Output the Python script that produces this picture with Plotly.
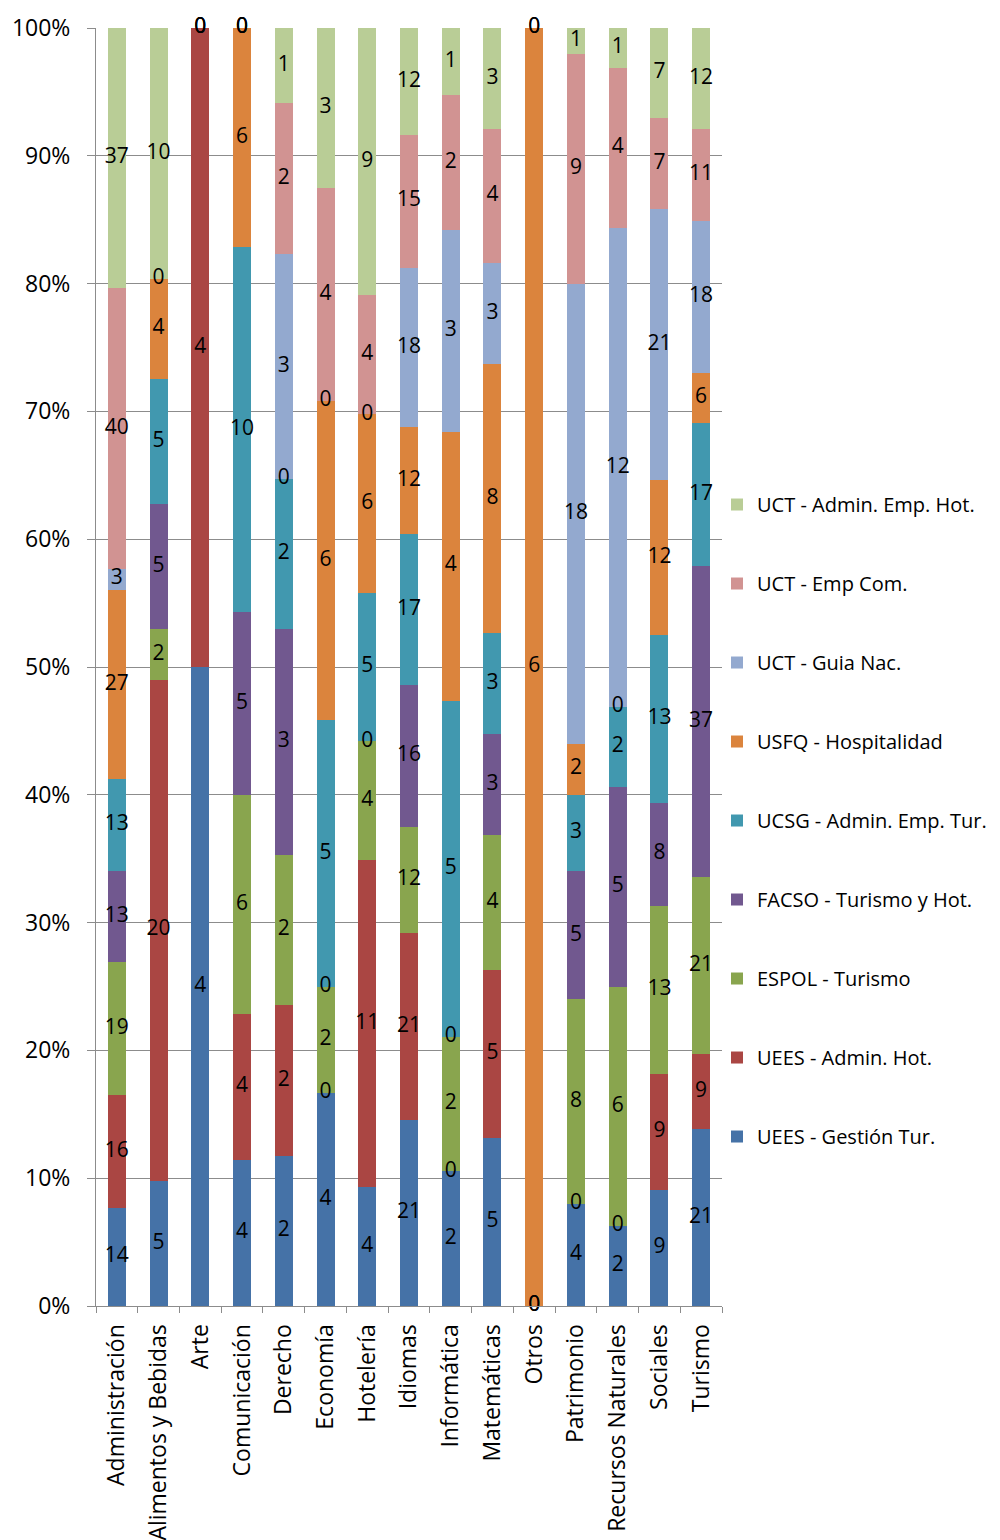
import plotly.graph_objects as go

categories = ["Administración", "Alimentos y Bebidas", "Arte", "Comunicación", "Derecho",
              "Economía", "Hotelería", "Idiomas", "Informática", "Matemáticas", "Otros",
              "Patrimonio", "Recursos Naturales", "Sociales", "Turismo"]

uees_gestion = [14, 5, 4, 4, 2, 4, 4, 21, 2, 5, 0, 4, 2, 9, 21]
uees_admin = [16, 20, 4, 4, 2, 0, 11, 21, 0, 5, 0, 0, 0, 9, 9]
espol_turismo = [19, 2, None, 6, 2, 2, 4, 12, 2, 4, None, 8, 6, 13, 21]
facso = [13, 5, None, 5, 3, 0, 0, 16, 0, 3, None, 5, 5, 8, 37]
ucsg = [13, 5, None, 10, 2, 5, 5, 17, 5, 3, None, 3, 2, 13, 17]
usfq = [27, 4, 0, 6, 0, 6, 6, 12, 4, 8, 6, 2, 0, 12, 6]
uct_guia = [3, None, None, 0, 3, 0, 0, 18, 3, 3, 0, 18, 12, 21, 18]
uct_empcom = [40, 0, 0, 0, 2, 4, 4, 15, 2, 4, None, 9, 4, 7, 11]
uct_adminhot = [37, 10, 0, 0, 1, 3, 9, 12, 1, 3, 0, 1, 1, 7, 12]

series_names = ["UEES - Gestión Tur.", "UEES - Admin. Hot.", "ESPOL - Turismo",
                "FACSO - Turismo y Hot.", "UCSG - Admin. Emp. Tur.", "USFQ - Hospitalidad",
                "UCT - Guia Nac.", "UCT - Emp Com.", "UCT - Admin. Emp. Hot."]
series_values = [uees_gestion, uees_admin, espol_turismo, facso, ucsg, usfq,
                 uct_guia, uct_empcom, uct_adminhot]
colors = ["#4572A7", "#AA4643", "#89A54E", "#71588F", "#4198AF", "#DB843D",
          "#93A9CF", "#D19392", "#B9CD96"]

FONT = "Open Sans"

fig = go.Figure()
for i, (name, vals, col) in enumerate(zip(series_names, series_values, colors)):
    fig.add_trace(go.Bar(
        x=categories, y=vals, name=name, marker_color=col,
        marker_line_width=0, legendgroup=f"g{i}", legendrank=100 - i,
    ))

# data labels at segment centers (computed from the data)
totals = [sum(v[j] for v in series_values if v[j] is not None) for j in range(len(categories))]
lx, ly, lt = [], [], []
cum = [0.0] * len(categories)
for vals in series_values:
    for j, v in enumerate(vals):
        if v is None:
            continue
        mid = (cum[j] + v / 2) / totals[j] * 100
        lx.append(categories[j])
        ly.append(mid)
        lt.append(str(v))
        cum[j] += v
fig.add_trace(go.Scatter(
    x=lx, y=ly, text=lt, mode="text", textposition="middle center",
    textfont=dict(family=FONT, size=21, color="black"),
    showlegend=False, cliponaxis=False, hoverinfo="skip",
))

fig.update_layout(
    width=992, height=1532,
    barmode="stack", barnorm="percent", bargap=0.57,
    paper_bgcolor="white", plot_bgcolor="white",
    margin=dict(l=88, r=278, t=20, b=234, autoexpand=False),
    font=dict(family=FONT, size=20, color="black"),
    legend=dict(
        x=0.992, xanchor="left", y=0.6424, yanchor="top",
        traceorder="grouped", tracegroupgap=50,
        font=dict(family=FONT, size=20, color="black"),
        bgcolor="rgba(0,0,0,0)", borderwidth=0,
    ),
    showlegend=True,
)
fig.update_yaxes(
    range=[0, 100], dtick=10, ticksuffix="%",
    showgrid=True, gridcolor="#8C8C8C", gridwidth=1,
    showline=True, linecolor="#8C8C8C", linewidth=1,
    ticks="outside", ticklen=8, tickcolor="#8C8C8C",
    ticklabelstandoff=12, automargin=False,
    tickfont=dict(family=FONT, size=23, color="black"),
    zeroline=False,
)
fig.update_xaxes(
    type="category", range=[-0.5, len(categories) - 0.5],
    tickangle=-90, tickson="boundaries",
    showline=True, linecolor="#8C8C8C", linewidth=1,
    ticks="outside", ticklen=6, tickcolor="#8C8C8C",
    ticklabelstandoff=8, automargin=False,
    tickfont=dict(family=FONT, size=23, color="black"),
    showgrid=False,
)

fig.write_html("out.html")
